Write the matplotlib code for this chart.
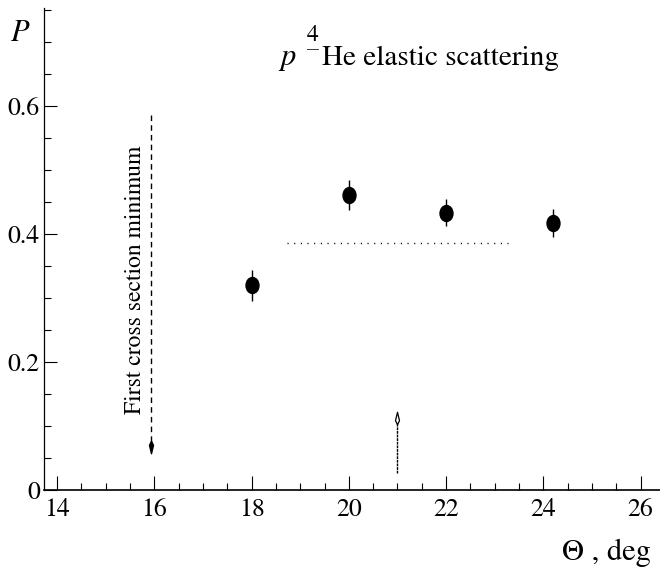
import matplotlib
matplotlib.use('Agg')
import matplotlib.pyplot as plt
from matplotlib.path import Path
from matplotlib.transforms import Affine2D
from matplotlib.ticker import MultipleLocator

# ── Data ───────────────────────────────────────────────────
theta     = [18.0, 20.0, 22.0, 24.2]
pol       = [0.320, 0.461, 0.433, 0.417]
pol_err   = [0.024, 0.024, 0.021, 0.022]

mean_x    = [18.72, 23.27]     # dotted average line
mean_y    = 0.386

min_x     = 15.94              # first cross section minimum
min_y     = [0.586, 0.075]
mark_x    = 21.0               # open arrow
mark_y    = [0.027, 0.105]

xticks    = [14, 16, 18, 20, 22, 24, 26]
yticks    = [0, 0.2, 0.4, 0.6]
ylabels   = ["0", "0.2", "0.4", "0.6"]

plt.rcParams['font.family'] = ['STIXGeneral', 'DejaVu Serif']
plt.rcParams['mathtext.fontset'] = 'stix'

W, H = 660, 568

def px_text(x, y, s, **kw):
    # place text by pixel position (y from top)
    return fig.text(x / W, 1 - y / H, s, **kw)

# ── Markers ────────────────────────────────────────────────
oval = Path.unit_circle().transformed(Affine2D().scale(0.81, 1.0))
kite = Path([(0, -1), (0.32, 0.35), (0, 1), (-0.32, 0.35), (0, -1)],
            [Path.MOVETO, Path.LINETO, Path.LINETO, Path.LINETO, Path.CLOSEPOLY])
kite_up = kite.transformed(Affine2D().scale(1, -1))

fig = plt.figure(figsize=(W / 100, H / 100), dpi=100)
ax = fig.add_axes([44 / W, 78 / H, 616 / W, 482 / H])

# ── Points ─────────────────────────────────────────────────
ax.errorbar(theta, pol, yerr=pol_err, fmt='none', ecolor='black',
            elinewidth=1.0, capsize=0)
ax.plot(theta, pol, ls='none', marker=oval, ms=11.5, color='black')

# average line
ax.plot(mean_x, [mean_y, mean_y], color='black', lw=1.0,
        ls=(0, (0.8, 4)))

# first cross-section minimum arrow
ax.plot([min_x, min_x], min_y, color='black', lw=1.0, ls=(0, (4, 3)))
ax.plot([min_x], [min_y[1] - 0.008], ls='none', marker=kite, ms=9,
        color='black')
ax.text(min_x - 0.34, 0.328, "First cross section minimum", rotation=90,
        ha='center', va='center', fontsize=17)

# open arrow
ax.plot([mark_x, mark_x], mark_y, color='black', lw=1.0, ls=(0, (2, 0.6)))
ax.plot([mark_x], [mark_y[1] + 0.008], ls='none', marker=kite_up, ms=9,
        mfc='white', mec='black', mew=0.9)

# ── Axes ───────────────────────────────────────────────────
ax.set_xlim(13.73, 26.40)
ax.set_ylim(0, 0.753)
ax.spines['top'].set_visible(False)
ax.spines['right'].set_visible(False)
ax.spines['bottom'].set_linewidth(1.2)
ax.spines['left'].set_linewidth(0.9)

ax.set_xticks(xticks)
ax.xaxis.set_minor_locator(MultipleLocator(0.5))
ax.set_yticks(yticks)
ax.set_yticklabels(ylabels)
ax.yaxis.set_minor_locator(MultipleLocator(0.05))
ax.tick_params(which='both', direction='in', width=0.8, labelsize=18.5)
ax.tick_params(axis='x', which='major', length=10, pad=6)
ax.tick_params(axis='x', which='minor', length=5)
ax.tick_params(axis='y', which='major', length=9.5, pad=3)
ax.tick_params(axis='y', which='minor', length=5)

# ── Labels ─────────────────────────────────────────────────
px_text(20, 34, "$P$", ha='center', va='center', fontsize=22)
px_text(562, 560, "Θ , deg", ha='left', va='baseline', fontsize=22)

# title: p -4He elastic scattering (the 4 sits right above the dash)
px_text(278, 65, "$p$", ha='left', va='baseline', fontsize=22)
px_text(313, 42, "4\n–", ha='center', va='center', multialignment='center',
        linespacing=0.55, fontsize=17)
px_text(322, 65, "He elastic scattering", ha='left', va='baseline',
        fontsize=21)

plt.savefig("out.png", dpi=100)
